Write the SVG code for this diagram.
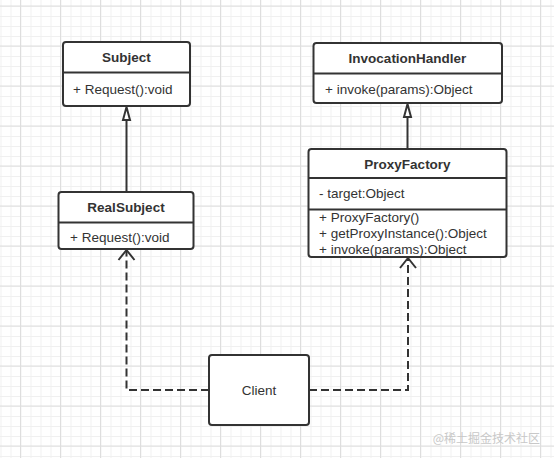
<svg xmlns="http://www.w3.org/2000/svg" width="554" height="458" viewBox="0 0 554 458">
<defs>
<pattern id="gl" x="0.5" y="6" width="10" height="10" patternUnits="userSpaceOnUse">
<path d="M0 0.5H10M0.5 0V10" stroke="#f0f0f0" stroke-width="1" fill="none"/>
</pattern>
<pattern id="gh" x="20" y="5.5" width="40" height="40" patternUnits="userSpaceOnUse">
<path d="M0 0.5H40M0.5 0V40" stroke="#dedede" stroke-width="1" fill="none"/>
</pattern>
</defs>
<style>
.box{fill:#fff;stroke:#333;stroke-width:2}
.div{stroke:#333;stroke-width:2;fill:none}
.t{font-family:"Liberation Sans",Arial,sans-serif;font-size:13.5px;fill:#333}
.b{font-weight:bold;text-anchor:middle}
.c{stroke:#333;stroke-width:2;fill:none}
.d{stroke-dasharray:8 4}
.tri{fill:#fff;stroke:#333;stroke-width:2;stroke-linejoin:miter}
</style>
<rect width="554" height="458" fill="#fff"/>
<rect width="554" height="458" fill="url(#gl)"/>
<rect width="554" height="458" fill="url(#gh)"/>

<g id="connectors">
<line class="c" x1="126.5" y1="192" x2="126.5" y2="118"/>
<path class="tri" d="M126.5 107 L130 120 L123 120 Z"/>
<line class="c" x1="407.5" y1="149" x2="407.5" y2="116"/>
<path class="tri" d="M407.5 104 L411 117 L404 117 Z"/>
<path class="c d" d="M209 390 H126.5 V251"/>
<path class="c" d="M118.5 260 L126.5 250 L134.5 260"/>
<path class="c d" d="M309 390 H408 V259"/>
<path class="c" d="M400 268 L408 258 L416 268"/>
</g>

<g id="Subject">
<rect class="box" x="63" y="42" width="127" height="64" rx="3"/>
<line class="div" x1="63" y1="72.5" x2="190" y2="72.5"/>
<text class="t b" x="126.5" y="62">Subject</text>
<text class="t" x="73" y="94">+ Request():void</text>
</g>

<g id="InvocationHandler">
<rect class="box" x="313.5" y="43" width="188.5" height="60" rx="3"/>
<line class="div" x1="313.5" y1="73.5" x2="502" y2="73.5"/>
<text class="t b" x="407.5" y="63">InvocationHandler</text>
<text class="t" x="325" y="94">+ invoke(params):Object</text>
</g>

<g id="RealSubject">
<rect class="box" x="58.5" y="192" width="135" height="57" rx="3"/>
<line class="div" x1="58.5" y1="222.5" x2="193.5" y2="222.5"/>
<text class="t b" x="126" y="212">RealSubject</text>
<text class="t" x="70" y="242">+ Request():void</text>
</g>

<g id="ProxyFactory">
<rect class="box" x="308.5" y="149" width="198" height="108" rx="3"/>
<line class="div" x1="308.5" y1="178" x2="506.5" y2="178"/>
<line class="div" x1="308.5" y1="209.5" x2="506.5" y2="209.5"/>
<text class="t b" x="407.5" y="169">ProxyFactory</text>
<text class="t" x="319" y="198">- target:Object</text>
<text class="t" x="319" y="222">+ ProxyFactory()</text>
<text class="t" x="319" y="238">+ getProxyInstance():Object</text>
<text class="t" x="319" y="254">+ invoke(params):Object</text>
</g>

<g id="Client">
<rect class="box" x="209" y="355" width="100" height="70" rx="3"/>
<text class="t" x="259" y="395" text-anchor="middle">Client</text>
</g>

<text x="540" y="443" text-anchor="end" font-family="'Noto Sans CJK SC',sans-serif" font-size="12" fill="#c8c8c8">@稀土掘金技术社区</text>
</svg>
